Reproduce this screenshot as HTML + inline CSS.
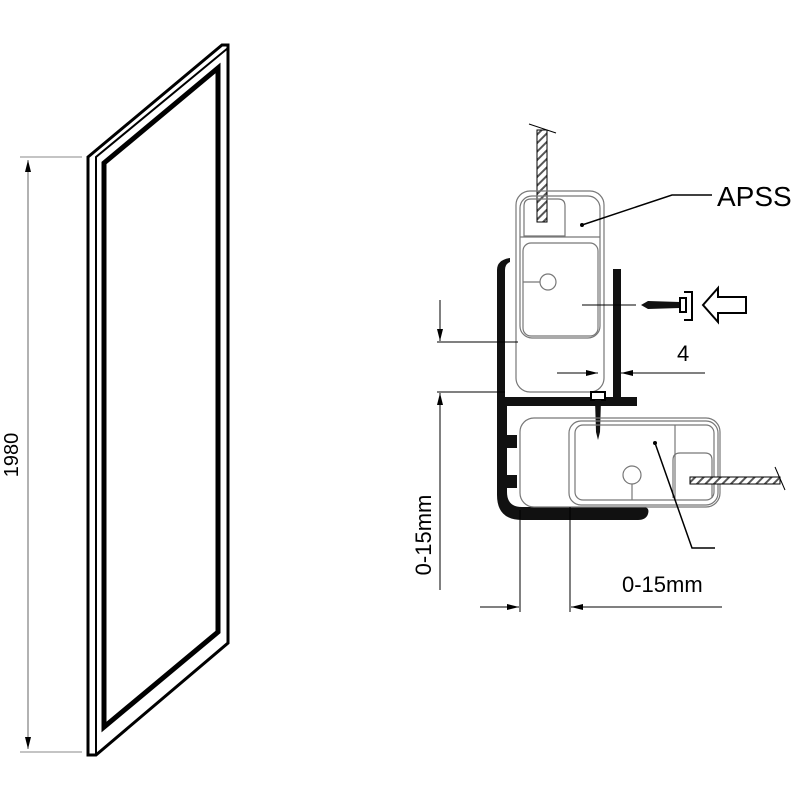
<!DOCTYPE html>
<html><head><meta charset="utf-8"><style>body{margin:0;background:#fff}svg{display:block}</style></head><body>
<svg width="800" height="800" viewBox="0 0 800 800" xmlns="http://www.w3.org/2000/svg">
<defs>
<marker id="a" viewBox="0 0 10 10" refX="10" refY="5" markerWidth="12" markerHeight="12" markerUnits="userSpaceOnUse" orient="auto-start-reverse"><path d="M0,2.5 L10,5 L0,7.5 z" fill="#000"/></marker>
<pattern id="h" width="6" height="6" patternUnits="userSpaceOnUse" patternTransform="rotate(45)"><rect width="6" height="6" fill="#fff"/><rect width="2" height="6" fill="#555"/></pattern>
</defs>
<!-- left panel -->
<g fill="none" stroke="#000">
<polygon points="88,157 222,45 228,45 228,643 96,755 88,755" stroke-width="3"/>
<polyline points="96,755 96,157 228,48" stroke-width="2"/>
<polygon points="104,163 218,68 218,632 104,727" stroke-width="5"/>
</g>
<g stroke="#888" stroke-width="1">
<line x1="20" y1="157" x2="82" y2="157"/><line x1="20" y1="752" x2="82" y2="752"/>
</g>
<line x1="28" y1="160" x2="28" y2="749" stroke="#666" stroke-width="1" marker-start="url(#a)" marker-end="url(#a)"/>
<text transform="translate(18,455) rotate(-90)" font-family="Liberation Sans, sans-serif" font-size="20" text-anchor="middle">1980</text>

<!-- right detail -->
<g fill="none" stroke="#000" stroke-width="1">
<line x1="529" y1="124" x2="556" y2="133"/>
<rect x="537" y="130" width="10" height="92" fill="url(#h)" stroke="#000"/>
</g>
<g fill="none" stroke="#777" stroke-width="1.2">
<rect x="516" y="191" width="88" height="201" rx="14"/>
<rect x="520" y="196" width="80" height="142" rx="12"/>
<path d="M524,236 L524,206 Q524,199 531,199 L558,199 Q565,199 565,206 L565,236 Z"/>
<line x1="520" y1="237" x2="600" y2="237"/>
<rect x="523" y="243" width="75" height="93" rx="8"/>
<circle cx="548" cy="282" r="8"/>
<line x1="523" y1="282" x2="540" y2="282"/>
</g>
<circle cx="582" cy="225" r="2" fill="#000"/>
<polyline points="582,225 672,195 712,195" fill="none" stroke="#000" stroke-width="1.5"/>
<text x="717" y="206" font-family="Liberation Sans, sans-serif" font-size="28">APSS</text>

<!-- black channel -->
<g fill="#111">
<path d="M497,270 Q497,260 510,258 L510,262 Q505,264 505,270 L505,398 L497,398 Z"/>
<rect x="613" y="269" width="8" height="130"/>
<rect x="497" y="397" width="140" height="9"/>
<path d="M497,405 L507,405 L507,492 Q507,507 522,507 L643,507 Q650,507 648,514 Q646,520 638,520 L522,520 Q497,520 497,495 Z"/>
<rect x="507" y="435" width="10" height="13"/>
<rect x="507" y="475" width="10" height="13"/>
</g>
<line x1="582" y1="305" x2="636" y2="305" stroke="#000"/>
<!-- horizontal screw -->
<path d="M641,305 L648,301 L680,302 L680,308 L648,309 Z" fill="#111"/>
<rect x="680" y="298" width="6" height="14" fill="#fff" stroke="#000" stroke-width="2"/>
<path d="M684,292 L692,292 L692,320 L684,320" fill="none" stroke="#000" stroke-width="2"/>
<path d="M703,305 L718,288 L718,297 L746,297 L746,313 L718,313 L718,322 Z" fill="#fff" stroke="#000" stroke-width="2"/>
<text x="677" y="361" font-family="Liberation Sans, sans-serif" font-size="22">4</text>
<line x1="557" y1="373" x2="598" y2="373" stroke="#000" marker-end="url(#a)"/>
<line x1="705" y1="373" x2="621" y2="373" stroke="#000" marker-end="url(#a)"/>
<!-- vertical screw -->
<rect x="591" y="392" width="14" height="8" fill="#fff" stroke="#000" stroke-width="2"/>
<path d="M595,400 L601,400 L600,432 L598,440 L596,432 Z" fill="#111"/>

<!-- lower profile -->
<g fill="none" stroke="#777" stroke-width="1.2">
<rect x="520" y="418" width="200" height="89" rx="14"/>
<rect x="569" y="421" width="149" height="84" rx="12"/>
<rect x="575" y="425" width="139" height="75" rx="8"/>
<line x1="675" y1="425" x2="675" y2="500"/>
<path d="M673,498 L673,460 Q673,453 680,453 L705,453 Q712,453 712,460 L712,498"/>
<circle cx="632" cy="475" r="9"/>
<line x1="632" y1="484" x2="632" y2="500"/>
</g>
<rect x="690" y="477" width="90" height="7" fill="url(#h)" stroke="#000" stroke-width="1"/>
<line x1="775" y1="467" x2="785" y2="490" stroke="#000"/>
<circle cx="655" cy="443" r="2" fill="#000"/>
<polyline points="655,443 692,548 715,548" fill="none" stroke="#000" stroke-width="1.5"/>

<!-- left dims -->
<g stroke="#000" stroke-width="1">
<line x1="437" y1="342" x2="518" y2="342"/>
<line x1="437" y1="392" x2="505" y2="392"/>
<line x1="440" y1="300" x2="440" y2="341" marker-end="url(#a)"/>
<line x1="440" y1="590" x2="440" y2="393" marker-end="url(#a)"/>
<line x1="520" y1="510" x2="520" y2="612"/>
<line x1="570" y1="507" x2="570" y2="612"/>
<line x1="480" y1="607" x2="519" y2="607" marker-end="url(#a)"/>
<line x1="722" y1="607" x2="571" y2="607" marker-end="url(#a)"/>
</g>
<text transform="translate(431,535) rotate(-90)" font-family="Liberation Sans, sans-serif" font-size="22" text-anchor="middle">0-15mm</text>
<text x="622" y="592" font-family="Liberation Sans, sans-serif" font-size="22">0-15mm</text>
</svg>
</body></html>
